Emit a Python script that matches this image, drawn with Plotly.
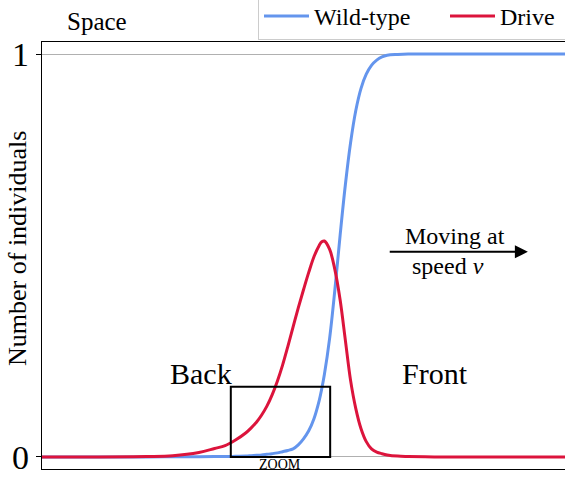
import plotly.graph_objects as go

# ---- data ----
position = [0, 10, 20, 25, 30, 33, 35, 37, 39, 40, 41, 42, 43, 44, 45, 46, 47, 48, 49, 50,
            51, 52, 53, 53.5, 54, 55, 56, 57, 58, 59, 60, 61, 62, 63, 64, 65, 66, 68, 70, 75, 80, 100]

wild_type = [0, 0, 0, 0.0003, 0.0005, 0.001, 0.001, 0.0015, 0.002, 0.003, 0.004, 0.005, 0.0065, 0.008, 0.01, 0.013, 0.016, 0.02, 0.03, 0.045,
             0.065, 0.095, 0.14, 0.17, 0.205, 0.295, 0.415, 0.55, 0.675, 0.78, 0.86, 0.915, 0.95, 0.972, 0.985, 0.993, 0.997, 0.999, 1, 1, 1, 1]

drive = [0, 0, 0.001, 0.003, 0.011, 0.021, 0.028, 0.042, 0.06, 0.072, 0.086, 0.104, 0.126, 0.154, 0.188, 0.228, 0.274, 0.322, 0.37, 0.415,
         0.458, 0.497, 0.525, 0.534, 0.536, 0.515, 0.465, 0.39, 0.29, 0.19, 0.12, 0.07, 0.038, 0.02, 0.012, 0.008, 0.005, 0.002, 0.001, 0, 0, 0]

y_ticks = [0, 1]
y_tick_labels = ["0", "1"]

zoom_box = dict(x0=36.1, x1=55.1, y0=0, y1=0.174)
arrow_from = (66.2, 0.509)
arrow_to = (92.9, 0.509)

SERIF = "Liberation Serif"
BLUE = "#6495ED"
RED = "#DC143C"

fig = go.Figure()
fig.add_trace(go.Scatter(x=position, y=wild_type, mode="lines", name="Wild-type",
                         line=dict(color=BLUE, width=3, shape="spline", smoothing=1.0)))
fig.add_trace(go.Scatter(x=position, y=drive, mode="lines", name="Drive",
                         line=dict(color=RED, width=3, shape="spline", smoothing=1.0)))

# zoom box
fig.add_shape(type="rect", xref="x", yref="y", **zoom_box,
              line=dict(color="black", width=2), fillcolor="rgba(0,0,0,0)", layer="above")
fig.add_annotation(x=(zoom_box["x0"] + zoom_box["x1"]) / 2, y=0, xref="x", yref="y",
                   text="ZOOM", showarrow=False, yanchor="top", yshift=2,
                   font=dict(family=SERIF, size=14, color="black"))

# arrow
fig.add_annotation(x=arrow_to[0], y=arrow_to[1], ax=arrow_from[0], ay=arrow_from[1],
                   xref="x", yref="y", axref="x", ayref="y", text="", showarrow=True,
                   arrowhead=2, arrowsize=1.3, arrowwidth=2, arrowcolor="black")
fig.add_annotation(x=79.0, y=0.549, xref="x", yref="y", text="Moving at", showarrow=False,
                   font=dict(family=SERIF, size=24, color="black"))
fig.add_annotation(x=77.6, y=0.474, xref="x", yref="y", text="speed <i>v</i>", showarrow=False,
                   font=dict(family=SERIF, size=24, color="black"))

fig.add_annotation(x=30.4, y=0.206, xref="x", yref="y", text="Back", showarrow=False,
                   font=dict(family=SERIF, size=30, color="black"))
fig.add_annotation(x=75.1, y=0.206, xref="x", yref="y", text="Front", showarrow=False,
                   font=dict(family=SERIF, size=30, color="black"))

fig.add_annotation(x=0.044, y=1.047, xref="paper", yref="paper", text="Space", showarrow=False,
                   xanchor="left", yanchor="middle", font=dict(family=SERIF, size=25, color="black"))

# y-axis title as rotated text
fig.add_annotation(x=-0.0459, y=0.5176, xref="paper", yref="paper", text="Number of individuals",
                   showarrow=False, textangle=-90, xanchor="center", yanchor="middle",
                   font=dict(family=SERIF, size=26, color="black"))

fig.update_layout(
    width=565, height=481,
    margin=dict(l=42, r=0, t=42, b=12, autoexpand=False),
    paper_bgcolor="white", plot_bgcolor="white",
    font=dict(family=SERIF, color="black"),
    showlegend=True,
    legend=dict(orientation="h", xref="paper", yref="paper",
                x=(258 - 42) / 523, xanchor="left", y=(469 + 7) / 427, yanchor="top",
                itemwidth=45, entrywidthmode="pixels", entrywidth=126,
                bordercolor="#cccccc", borderwidth=1, bgcolor="white",
                font=dict(family=SERIF, size=24, color="black")),
    xaxis=dict(range=[0, 100], showticklabels=False, ticks="", showgrid=False, zeroline=False,
               showline=True, linecolor="black", linewidth=1.3, mirror=True, automargin=False),
    yaxis=dict(range=[-0.03, 1.03], tickvals=y_ticks, ticktext=y_tick_labels,
               ticks="outside", ticklen=5, tickcolor="black", tickwidth=1,
               tickfont=dict(family=SERIF, size=34, color="black"),
               showgrid=True, gridcolor="#b0b0b0", gridwidth=1, zeroline=False,
               showline=True, linecolor="black", linewidth=1.3, automargin=False),
)

fig.write_html("out.html", config={"displayModeBar": False},
               post_script="document.body.style.margin='0';document.body.style.overflow='hidden';")
